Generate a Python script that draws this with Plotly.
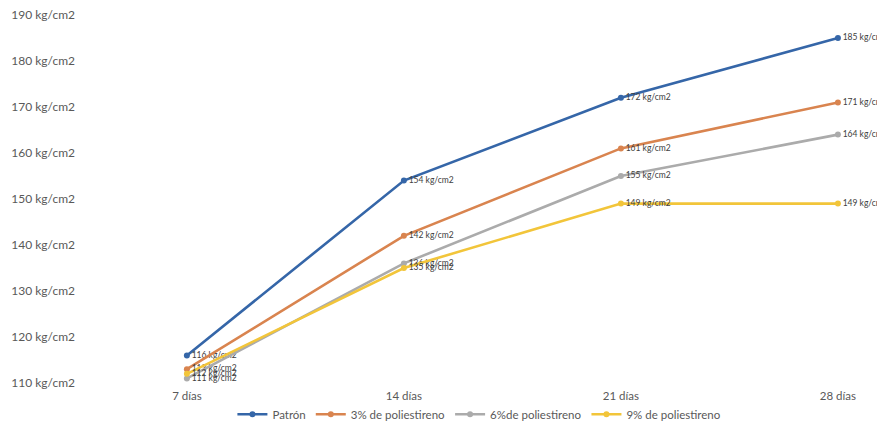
import plotly.graph_objects as go

# Compressive strength over curing age
dias = ["7 días", "14 días", "21 días", "28 días"]
patron = [116, 154, 172, 185]
pct3 = [113, 142, 161, 171]
pct6 = [111, 136, 155, 164]
pct9 = [112, 135, 149, 149]

series_names = ["Patrón", "3% de poliestireno", "6%de poliestireno", "9% de poliestireno"]
series_values = [patron, pct3, pct6, pct9]
series_colors = ["#3566A8", "#D9844F", "#ABABAB", "#F2C53A"]

y_ticks = [110, 120, 130, 140, 150, 160, 170, 180, 190]
y_tick_text = [f"{v} kg/cm2" for v in y_ticks]

FONT = "Lato, Open Sans, sans-serif"

fig = go.Figure()
for name, vals, color in zip(series_names, series_values, series_colors):
    fig.add_trace(go.Scatter(
        x=dias,
        y=vals,
        mode="lines+markers+text",
        name=name,
        line=dict(color=color, width=2.6),
        marker=dict(color=color, size=6, symbol="circle"),
        text=[f"{v} kg/cm2" for v in vals],
        textposition="middle right",
        textfont=dict(family=FONT, size=8.5, color="#404040"),
        cliponaxis=False,
    ))

fig.update_layout(
    width=877,
    height=428,
    margin=dict(l=76, r=10, t=15, b=45, autoexpand=False),
    paper_bgcolor="white",
    plot_bgcolor="white",
    font=dict(family=FONT, size=11.5, color="#595959"),
    showlegend=True,
    legend=dict(
        orientation="h",
        x=0.51,
        xanchor="center",
        y=-0.085,
        yanchor="middle",
        bgcolor="rgba(0,0,0,0)",
        font=dict(family=FONT, size=11.5, color="#595959"),
        itemwidth=30,
        tracegroupgap=0,
    ),
    xaxis=dict(
        type="category",
        categoryorder="array",
        categoryarray=dias,
        range=[-0.511, 3.134],
        showgrid=False,
        showline=False,
        zeroline=False,
        ticks="",
        ticklabelstandoff=4,
        tickfont=dict(family=FONT, size=11.5, color="#595959"),
    ),
    yaxis=dict(
        range=[110, 190],
        tickvals=y_ticks,
        ticktext=y_tick_text,
        showgrid=False,
        showline=False,
        zeroline=False,
        ticks="",
        tickfont=dict(family=FONT, size=12, color="#595959"),
    ),
)

fig.write_html("out.html")
